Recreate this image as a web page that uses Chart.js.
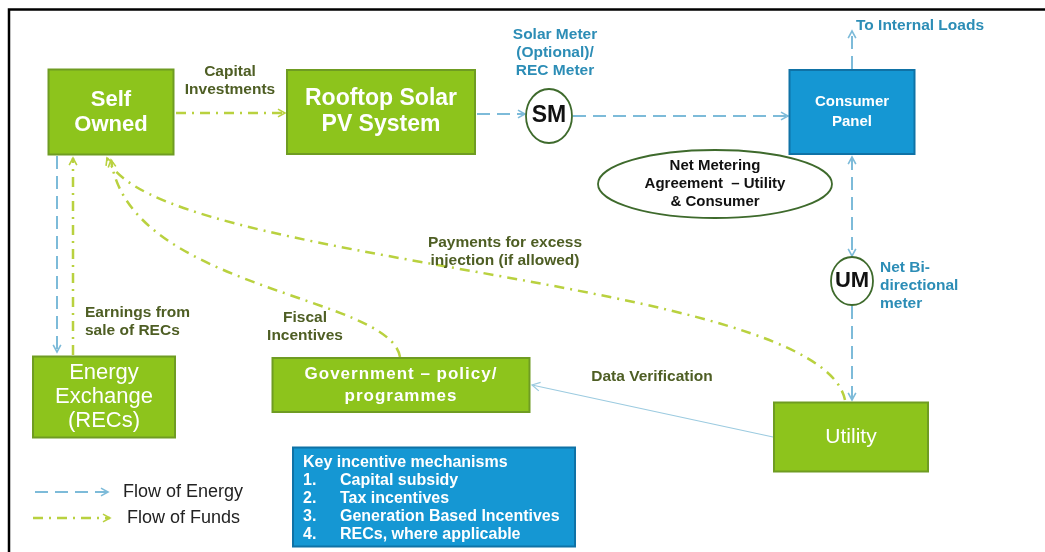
<!DOCTYPE html>
<html>
<head>
<meta charset="utf-8">
<script src="https://cdn.jsdelivr.net/npm/chart.js@4.4.1/dist/chart.umd.min.js"></script>
<style>
  html, body { margin: 0; padding: 0; background: #fff; }
  #wrap { width: 1045px; height: 552px; }
</style>
</head>
<body>
<div id="wrap"><canvas id="diagram" width="1045" height="552"></canvas></div>
<script>
// nodes of the flow diagram (centre in diagram units)
const nodeNames = ['Self Owned', 'Rooftop Solar PV System', 'SM', 'Consumer Panel',
  'Net Metering Agreement', 'UM', 'Utility', 'Government', 'Energy Exchange', 'Key incentives'];
const nodeX = [111, 381, 549, 852, 715, 852, 851, 401, 104, 434];
const nodeY = [112, 112, 116, 112, 184, 281, 437, 385, 397, 497];

const nodeText = [
  ['Self', 'Owned'],
  ['Rooftop Solar', 'PV System'],
  ['SM'],
  ['Consumer', 'Panel'],
  ['Net Metering', 'Agreement  \u2013 Utility', '& Consumer'],
  ['UM'],
  ['Utility'],
  ['Government \u2013 policy/', 'programmes'],
  ['Energy', 'Exchange', '(RECs)'],
  []
];

const incentiveTitle = 'Key incentive mechanisms';
const incentiveItems = ['Capital subsidy', 'Tax incentives', 'Generation Based Incentives', 'RECs, where applicable'];

// edge labels
const labelLines = [
  ['Capital', 'Investments'],
  ['Solar Meter', '(Optional)/', 'REC Meter'],
  ['To Internal Loads'],
  ['Net Bi-', 'directional', 'meter'],
  ['Payments for excess', 'injection (if allowed)'],
  ['Earnings from', 'sale of RECs'],
  ['Fiscal', 'Incentives'],
  ['Data Verification']
];
const legendNames = ['Flow of Energy', 'Flow of Funds'];

// ---- styles ----
const GREEN = '#8dc41c', GREEN_EDGE = '#6f9c22';
const BLUE = '#1597d3', BLUE_EDGE = '#0f72a6';
const OLIVE = '#4e5e24', TEAL = '#2c8db6';
const ENERGY = '#7dbbd9', FUNDS = '#b9d13f';
const FONT = 'Arial, "Liberation Sans", sans-serif';

const shape = [
  {kind: 'box', w: 125, h: 85, fill: GREEN, edge: GREEN_EDGE, font: 'bold 22px', color: '#fff', lh: 25},
  {kind: 'box', w: 188, h: 84, fill: GREEN, edge: GREEN_EDGE, font: 'bold 23px', color: '#fff', lh: 26},
  {kind: 'oval', w: 46, h: 54, edge: '#3e6a2c', font: 'bold 23px', color: '#111', lh: 20},
  {kind: 'box', w: 125, h: 84, fill: BLUE, edge: BLUE_EDGE, font: 'bold 15px', color: '#fff', lh: 20},
  {kind: 'oval', w: 234, h: 68, edge: '#3e6a2c', font: 'bold 15px', color: '#111', lh: 18},
  {kind: 'oval', w: 42, h: 48, edge: '#3e6a2c', font: 'bold 22px', color: '#111', lh: 20},
  {kind: 'box', w: 154, h: 69, fill: GREEN, edge: GREEN_EDGE, font: '21px', color: '#fff', lh: 24},
  {kind: 'box', w: 257, h: 54, fill: GREEN, edge: GREEN_EDGE, font: 'bold 17px', color: '#fff', lh: 22, spacing: '1px'},
  {kind: 'box', w: 142, h: 81, fill: GREEN, edge: GREEN_EDGE, font: '22px', color: '#fff', lh: 24},
  {kind: 'box', w: 282, h: 99, fill: BLUE, edge: BLUE_EDGE, font: 'bold 16px', color: '#fff', lh: 18}
];

const labelPos = [
  {x: 230, y: 72, color: OLIVE, align: 'center'},
  {x: 555, y: 35, color: TEAL, align: 'center'},
  {x: 920, y: 26, color: TEAL, align: 'center'},
  {x: 880, y: 268, color: TEAL, align: 'left'},
  {x: 505, y: 243, color: OLIVE, align: 'center'},
  {x: 85, y: 313, color: OLIVE, align: 'left'},
  {x: 305, y: 318, color: OLIVE, align: 'center'},
  {x: 652, y: 377, color: OLIVE, align: 'center'}
];

function arrowHead(c, x, y, ang, size, color, width) {
  c.save();
  c.setLineDash([]);
  c.strokeStyle = color;
  c.lineWidth = width;
  c.beginPath();
  c.moveTo(x - size * Math.cos(ang - 0.5), y - size * Math.sin(ang - 0.5));
  c.lineTo(x, y);
  c.lineTo(x - size * Math.cos(ang + 0.5), y - size * Math.sin(ang + 0.5));
  c.stroke();
  c.restore();
}

function flowStyle(c, type) {
  if (type === 'energy') {
    c.strokeStyle = ENERGY; c.lineWidth = 2; c.setLineDash([13, 7]);
    return ENERGY;
  }
  c.strokeStyle = FUNDS; c.lineWidth = 2.5; c.setLineDash([10, 6, 2, 6]);
  return FUNDS;
}

const diagramPlugin = {
  id: 'diagram',
  afterDatasetsDraw(chart) {
    const c = chart.ctx;
    const sx = chart.scales.x, sy = chart.scales.y;
    const X = v => sx.getPixelForValue(v);
    const Y = v => sy.getPixelForValue(v);

    // straight flow arrows
    function flow(type, x1, y1, x2, y2, both) {
      c.save();
      const col = flowStyle(c, type);
      c.beginPath();
      c.moveTo(X(x1), Y(y1));
      c.lineTo(X(x2), Y(y2));
      c.stroke();
      const ang = Math.atan2(Y(y2) - Y(y1), X(x2) - X(x1));
      arrowHead(c, X(x2), Y(y2), ang, 8, col, 1.6);
      if (both) arrowHead(c, X(x1), Y(y1), ang + Math.PI, 8, col, 1.6);
      c.restore();
    }
    // curved funds arrows
    function curve(p) {
      c.save();
      const col = flowStyle(c, 'funds');
      c.beginPath();
      c.moveTo(X(p[0]), Y(p[1]));
      c.bezierCurveTo(X(p[2]), Y(p[3]), X(p[4]), Y(p[5]), X(p[6]), Y(p[7]));
      c.stroke();
      const ang = Math.atan2(Y(p[7]) - Y(p[5]), X(p[6]) - X(p[4]));
      arrowHead(c, X(p[6]), Y(p[7]), ang, 8, col, 1.6);
      c.restore();
    }

    // frame (top and left)
    c.save();
    c.strokeStyle = '#000';
    c.lineWidth = 2.5;
    c.beginPath();
    c.moveTo(X(9), Y(552));
    c.lineTo(X(9), Y(9.5));
    c.lineTo(X(1045), Y(9.5));
    c.stroke();
    c.restore();

    // connectors
    curve([845, 400, 820, 276, 150, 266, 107, 158]);
    curve([400, 357, 390, 295, 130, 290, 111, 160]);
    flow('funds', 176, 113, 285, 113);
    flow('energy', 477, 114, 525, 114);
    flow('energy', 573, 116, 788, 116);
    flow('energy', 852, 69, 852, 31);
    flow('energy', 852, 157, 852, 256, true);
    flow('energy', 852, 306, 852, 400);
    flow('energy', 57, 156, 57, 352);
    flow('funds', 73, 355, 73, 158);

    // data verification thin line
    c.save();
    c.strokeStyle = '#9ccbe0';
    c.lineWidth = 1.2;
    c.beginPath();
    c.moveTo(X(773), Y(437));
    c.lineTo(X(532), Y(385));
    c.stroke();
    arrowHead(c, X(532), Y(385), Math.atan2(Y(385) - Y(437), X(532) - X(773)), 9, '#9ccbe0', 1.2);
    c.restore();

    // nodes
    nodeNames.forEach((name, i) => {
      const s = shape[i];
      const cx = X(nodeX[i]), cy = Y(nodeY[i]);
      c.save();
      c.textAlign = 'center';
      c.textBaseline = 'middle';
      if (s.kind === 'box') {
        c.fillStyle = s.fill;
        c.fillRect(cx - s.w / 2, cy - s.h / 2, s.w, s.h);
        c.strokeStyle = s.edge;
        c.lineWidth = 2;
        c.strokeRect(cx - s.w / 2, cy - s.h / 2, s.w, s.h);
      } else {
        c.fillStyle = '#fff';
        c.strokeStyle = s.edge;
        c.lineWidth = 1.8;
        c.beginPath();
        c.ellipse(cx, cy, s.w / 2, s.h / 2, 0, 0, Math.PI * 2);
        c.fill();
        c.stroke();
      }
      c.fillStyle = s.color;
      c.font = s.font + ' ' + FONT;
      if (s.spacing) c.letterSpacing = s.spacing;
      const lines = nodeText[i];
      const top = cy - (lines.length - 1) * s.lh / 2;
      lines.forEach((t, k) => c.fillText(t, cx, top + k * s.lh));
      c.restore();
    });

    // key incentive list
    const ki = nodeNames.length - 1;
    const kx = X(nodeX[ki]) - shape[ki].w / 2, ky = Y(nodeY[ki]) - shape[ki].h / 2;
    c.save();
    c.fillStyle = '#fff';
    c.textAlign = 'left';
    c.textBaseline = 'middle';
    c.font = shape[ki].font + ' ' + FONT;
    c.fillText(incentiveTitle, kx + 10, ky + 15);
    incentiveItems.forEach((t, k) => {
      c.fillText((k + 1) + '.', kx + 10, ky + 33 + k * 18);
      c.fillText(t, kx + 47, ky + 33 + k * 18);
    });
    c.restore();

    // edge labels
    c.save();
    c.font = 'bold 15.5px ' + FONT;
    c.textBaseline = 'middle';
    labelLines.forEach((lines, i) => {
      const p = labelPos[i];
      c.fillStyle = p.color;
      c.textAlign = p.align;
      lines.forEach((t, k) => c.fillText(t, X(p.x), Y(p.y) + k * 18));
    });
    c.restore();

    // legend
    c.save();
    flow('energy', 35, 492, 108, 492);
    flow('funds', 33, 518, 110, 518);
    c.fillStyle = '#222';
    c.font = '18px ' + FONT;
    c.textAlign = 'left';
    c.textBaseline = 'middle';
    c.fillText(legendNames[0], X(123), Y(492));
    c.fillText(legendNames[1], X(127), Y(518));
    c.restore();
  }
};

new Chart(document.getElementById('diagram'), {
  type: 'scatter',
  data: {
    datasets: [{
      label: 'nodes',
      data: nodeX.map((x, i) => ({x: x, y: nodeY[i]})),
      pointRadius: 0
    }]
  },
  options: {
    responsive: false,
    animation: false,
    layout: { padding: 0 },
    plugins: { legend: { display: false }, tooltip: { enabled: false } },
    scales: {
      x: { type: 'linear', min: 0, max: 1045, display: false },
      y: { type: 'linear', min: 0, max: 552, reverse: true, display: false }
    }
  },
  plugins: [diagramPlugin]
});
</script>
</body>
</html>
